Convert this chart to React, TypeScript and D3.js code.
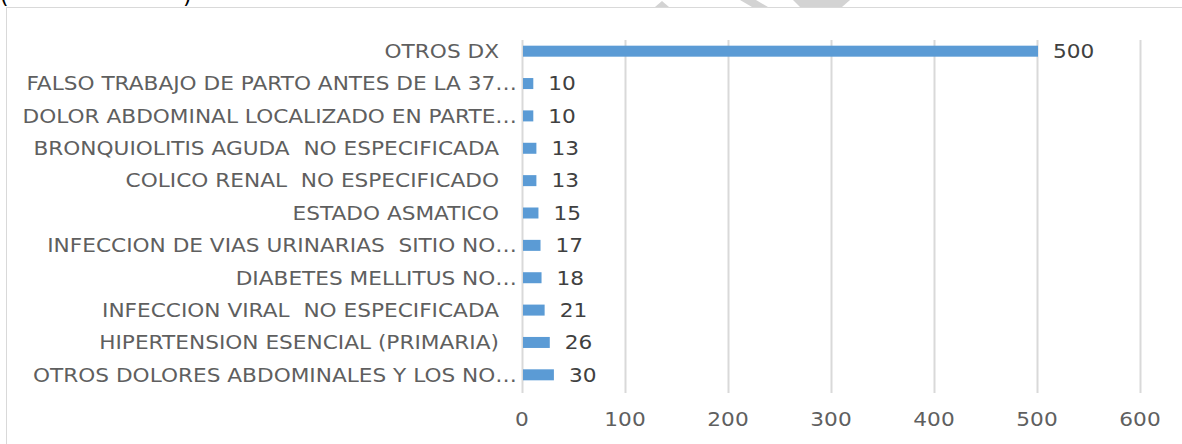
import React, { useRef, useEffect } from 'react';
import * as d3 from 'd3';

const categories = [
  'OTROS DX',
  'FALSO TRABAJO DE PARTO ANTES DE LA 37…',
  'DOLOR ABDOMINAL LOCALIZADO EN PARTE…',
  'BRONQUIOLITIS AGUDA  NO ESPECIFICADA',
  'COLICO RENAL  NO ESPECIFICADO',
  'ESTADO ASMATICO',
  'INFECCION DE VIAS URINARIAS  SITIO NO…',
  'DIABETES MELLITUS NO…',
  'INFECCION VIRAL  NO ESPECIFICADA',
  'HIPERTENSION ESENCIAL (PRIMARIA)',
  'OTROS DOLORES ABDOMINALES Y LOS NO…',
];
const values = [500, 10, 10, 13, 13, 15, 17, 18, 21, 26, 30];
const xTicks = [0, 100, 200, 300, 400, 500, 600];

const width = 1182;
const height = 444;
const stretch = 1.14; // el texto original está un poco ensanchado

const App = () => {
  const svgRef = useRef<SVGSVGElement>(null);

  useEffect(() => {
    document.body.style.margin = '0';
    const svg = d3.select(svgRef.current)
      .attr('width', width)
      .attr('height', height);

    svg.selectAll('*').remove();

    const font = 'DejaVu Sans, Verdana, sans-serif';

    // marca de agua gris arriba
    const wm = svg.append('g').attr('fill', '#d3d3d3');
    wm.append('path').attr('d', 'M655,7 L662,1 L669,7 Z');
    wm.append('path').attr('d', 'M740,0 L756,0 L768,7 L752,7 Z');
    wm.append('path').attr('d', 'M793,0 L850,0 L842,7 L800,7 Z');

    // marco del gráfico
    svg.append('line')
      .attr('x1', 6.5).attr('x2', 6.5).attr('y1', 7).attr('y2', height)
      .attr('stroke', '#d9d9d9');
    svg.append('line')
      .attr('x1', 6).attr('x2', width).attr('y1', 7.5).attr('y2', 7.5)
      .attr('stroke', '#d9d9d9');

    // restos del título (cortado arriba)
    svg.append('text')
      .attr('x', 0).attr('y', 3)
      .attr('font-family', font).attr('font-size', 22).attr('fill', '#000')
      .text('(');
    svg.append('text')
      .attr('x', 183).attr('y', 3)
      .attr('font-family', font).attr('font-size', 22).attr('fill', '#000')
      .text(')');

    const xScale = d3.scaleLinear()
      .domain([0, 600])
      .range([522, 1140]);

    const yScale = d3.scaleBand()
      .domain(categories)
      .range([35, 391])
      .paddingInner(0.66)
      .paddingOuter(0.33);

    // líneas de cuadrícula
    svg.append('g')
      .selectAll('line')
      .data(xTicks)
      .enter()
      .append('line')
      .attr('x1', d => xScale(d) + 0.5)
      .attr('x2', d => xScale(d) + 0.5)
      .attr('y1', 40)
      .attr('y2', 393)
      .attr('stroke', '#d9d9d9')
      .attr('stroke-width', 2);

    // etiquetas eje X
    svg.append('g')
      .selectAll('text')
      .data(xTicks)
      .enter()
      .append('text')
      .attr('transform', d => `translate(${xScale(d)},426) scale(${stretch},1)`)
      .attr('text-anchor', 'middle')
      .attr('font-family', font)
      .attr('font-size', 19)
      .attr('fill', '#5f5f5f')
      .text(d => d);

    const rows = categories.map((c, i) => ({ name: c, value: values[i] }));

    // barras
    svg.append('g')
      .selectAll('rect')
      .data(rows)
      .enter()
      .append('rect')
      .attr('x', xScale(0) + 1)
      .attr('y', d => yScale(d.name)!)
      .attr('width', d => xScale(d.value) - xScale(0))
      .attr('height', yScale.bandwidth())
      .attr('fill', '#5b9bd5');

    // categorías (las truncadas llegan más a la derecha)
    svg.append('g')
      .selectAll('text')
      .data(rows)
      .enter()
      .append('text')
      .attr('transform', d => {
        const x = d.name.endsWith('…') ? 517 : 499;
        return `translate(${x},${yScale(d.name)! + yScale.bandwidth() / 2}) scale(${stretch},1)`;
      })
      .attr('dy', '0.36em')
      .attr('text-anchor', 'end')
      .attr('font-family', font)
      .attr('font-size', 19)
      .attr('fill', '#5f5f5f')
      .style('white-space', 'pre')
      .text(d => d.name);

    // valores
    svg.append('g')
      .selectAll('text')
      .data(rows)
      .enter()
      .append('text')
      .attr('transform', d => `translate(${xScale(d.value) + 16},${yScale(d.name)! + yScale.bandwidth() / 2}) scale(${stretch},1)`)
      .attr('dy', '0.36em')
      .attr('font-family', font)
      .attr('font-size', 19)
      .attr('fill', '#404040')
      .text(d => d.value);
  }, []);

  return <svg ref={svgRef}></svg>;
};

export default App;
